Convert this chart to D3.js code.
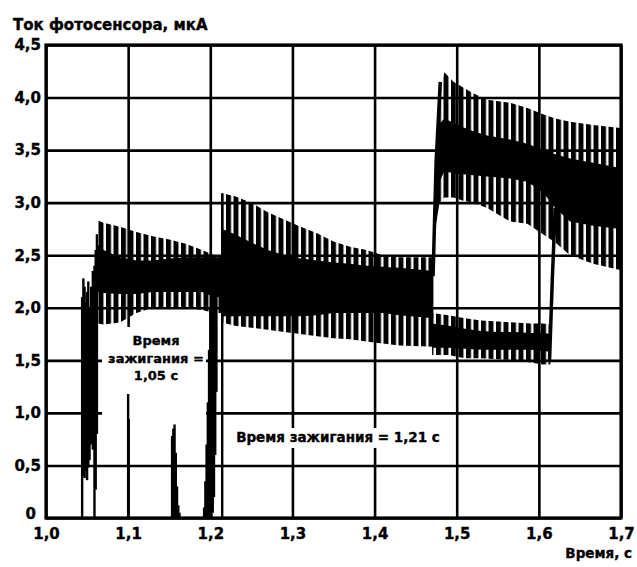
<!DOCTYPE html>
<html>
<head>
<meta charset="utf-8">
<script src="https://cdn.jsdelivr.net/npm/d3@7"></script>
<style>
  body { margin: 0; background: #fff; }
  text { font-family: "DejaVu Sans", sans-serif; font-weight: bold; fill: #000; stroke: #000; stroke-width: 0.35px; }
</style>
</head>
<body>
<script>
// ---------------- data ----------------
const xTicks = [1.0, 1.1, 1.2, 1.3, 1.4, 1.5, 1.6, 1.7]
const yTicks = [0, 0.5, 1.0, 1.5, 2.0, 2.5, 3.0, 3.5, 4.0, 4.5]

// rows: [time s, peak top, solid top, solid bottom, trough bottom] in uA
const plateauFirst = [
    [1.063, 2.83, 2.60, 2.15, 1.85],
    [1.070, 2.81, 2.55, 2.14, 1.84],
    [1.090, 2.77, 2.48, 2.13, 1.86],
    [1.110, 2.72, 2.45, 2.13, 1.95],
    [1.130, 2.68, 2.45, 2.15, 2.00],
    [1.150, 2.65, 2.47, 2.15, 2.00],
    [1.170, 2.61, 2.48, 2.15, 2.00],
    [1.190, 2.55, 2.48, 2.15, 1.98],
    [1.205, 2.50, 2.48, 2.10, 1.95],
    [1.215, 2.50, 2.48, 2.10, 1.95]
]
const plateauSecond = [
    [1.2145, 3.09, 2.75, 1.92, 1.86],
    [1.230, 3.06, 2.70, 1.92, 1.83],
    [1.250, 3.00, 2.62, 1.92, 1.81],
    [1.270, 2.91, 2.55, 1.92, 1.79],
    [1.290, 2.84, 2.50, 1.92, 1.77],
    [1.310, 2.77, 2.47, 1.92, 1.75],
    [1.330, 2.71, 2.45, 1.93, 1.73],
    [1.350, 2.63, 2.43, 1.95, 1.71],
    [1.370, 2.58, 2.42, 1.95, 1.70],
    [1.390, 2.55, 2.40, 1.95, 1.68],
    [1.410, 2.50, 2.39, 1.95, 1.66],
    [1.430, 2.48, 2.38, 1.93, 1.64],
    [1.4715, 2.48, 2.35, 1.90, 1.63]
]
const highBand = [
    [1.4715, 2.55, 2.50, 2.40, 2.35],
    [1.4750, 3.45, 3.30, 2.90, 2.80],
    [1.4790, 4.05, 3.75, 3.20, 3.00],
    [1.4850, 4.24, 3.80, 3.30, 3.05],
    [1.4960, 4.15, 3.76, 3.28, 3.05],
    [1.5070, 4.10, 3.72, 3.27, 3.02],
    [1.5200, 4.04, 3.68, 3.26, 3.00],
    [1.5370, 3.98, 3.64, 3.25, 2.95],
    [1.5650, 3.95, 3.60, 3.23, 2.82],
    [1.5860, 3.90, 3.56, 3.20, 2.80],
    [1.6050, 3.84, 3.50, 3.10, 2.70],
    [1.6200, 3.80, 3.46, 2.95, 2.62],
    [1.6380, 3.77, 3.42, 2.82, 2.50],
    [1.6660, 3.74, 3.38, 2.78, 2.42],
    [1.6990, 3.71, 3.33, 2.75, 2.36]
]
const lowBand = [
    [1.470, 1.95, 1.85, 1.62, 1.55],
    [1.490, 1.93, 1.83, 1.62, 1.55],
    [1.510, 1.90, 1.80, 1.61, 1.52],
    [1.530, 1.88, 1.78, 1.60, 1.52],
    [1.550, 1.87, 1.77, 1.60, 1.51],
    [1.570, 1.86, 1.77, 1.60, 1.50],
    [1.590, 1.85, 1.76, 1.60, 1.48],
    [1.605, 1.85, 1.76, 1.59, 1.46],
    [1.614, 1.84, 1.75, 1.58, 1.46]
]
// steep edges where a trace jumps to the high level
const riseFirst = [[1.4712, 2.30], [1.4750, 3.40], [1.4800, 4.15]]
const riseSecond = [[1.613, 1.50], [1.6165, 2.30], [1.620, 2.95]]

// ignition transients: [time, low, high]
const spikesFirst = [
    [1.0440, 0.00, 2.10], [1.0455, 0.40, 2.28], [1.0470, 0.38, 2.20],
    [1.0485, 0.45, 2.05], [1.0500, 0.36, 2.15], [1.0515, 0.48, 2.25],
    [1.0530, 0.55, 2.00], [1.0550, 0.70, 2.20], [1.0570, 0.65, 2.35],
    [1.0590, 0.00, 2.40], [1.0605, 0.27, 2.55], [1.0620, 0.80, 2.70]
]
const spikesMiddle = [
    [1.1000, 0.00, 1.18],
    [1.1535, 0.00, 0.78], [1.1550, 0.00, 0.85], [1.1565, 0.00, 0.89],
    [1.1580, 0.00, 0.62], [1.1595, 0.00, 0.30], [1.1610, 0.00, 0.12],
    [1.1625, 0.00, 0.05]
]
const spikesSecond = [
    [1.1925, 0.00, 0.10], [1.1940, 0.00, 0.35], [1.1955, 0.00, 0.70],
    [1.1970, 0.00, 1.10], [1.1985, 0.00, 1.60], [1.2000, 0.00, 2.00],
    [1.2015, 0.00, 2.10], [1.2030, 0.05, 2.10], [1.2045, 0.20, 2.00],
    [1.2060, 0.60, 2.10], [1.2075, 1.20, 2.10], [1.2145, 0.00, 3.09]
]

const noteFirst = ['Время', 'зажигания =', '1,05 с']
const noteSecond = 'Время зажигания = 1,21 с'

// ---------------- layout ----------------
const margin = { top: 45, right: 16, bottom: 49, left: 46 },
    width = 637 - margin.left - margin.right,
    height = 567 - margin.top - margin.bottom

const svg = d3.select('body').append('svg')
    .attr('width', 637)
    .attr('height', 567)

svg.append('defs').append('pattern')
    .attr('id', 'ripple')
    .attr('patternUnits', 'userSpaceOnUse')
    .attr('width', 7.5)
    .attr('height', 8)
    .append('rect')
    .attr('width', 5)
    .attr('height', 8)
    .attr('fill', '#000')

const g = svg.append('g')
    .attr('transform', 'translate(' + margin.left + ',' + margin.top + ')')

const x = d3.scaleLinear().domain([1.0, 1.7]).range([0, width])
const y = d3.scaleLinear().domain([0, 4.5]).range([height, 0])

const comma = d3.formatLocale({ decimal: ',', thousands: ' ', grouping: [3], currency: ['', ''] })
const fmt = comma.format('.1f')

// grid
g.append('g')
    .call(d3.axisLeft(y).tickValues(yTicks).tickSize(-width).tickPadding(5)
        .tickFormat(d => d === 0 ? '0' : fmt(d)))
    .call(ax => ax.select('.domain').remove())
    .call(ax => ax.selectAll('line').attr('stroke', '#000').attr('stroke-width', 2.6))
    .call(ax => ax.selectAll('text').style('font-size', '15px'))
    .call(ax => ax.selectAll('text').filter(d => d === 0).attr('dy', '0.05em').attr('x', -10))

g.append('g')
    .attr('transform', 'translate(0,' + height + ')')
    .call(d3.axisBottom(x).tickValues(xTicks).tickSize(-height).tickPadding(10).tickFormat(fmt))
    .call(ax => ax.select('.domain').remove())
    .call(ax => ax.selectAll('line').attr('stroke', '#000').attr('stroke-width', 2.6))
    .call(ax => ax.selectAll('text').style('font-size', '15px'))

g.append('rect')
    .attr('width', width)
    .attr('height', height)
    .attr('fill', 'none')
    .attr('stroke', '#000')
    .attr('stroke-width', 3.2)

// note boxes hide the grid behind the text
g.append('rect')
    .attr('x', 56).attr('y', 282).attr('width', 104).attr('height', 92)
    .attr('fill', '#fff')
g.append('rect')
    .attr('x', 182).attr('y', 383).attr('width', 222).attr('height', 20)
    .attr('fill', '#fff')

// signal
const fringe = d3.area()
    .x(d => x(d[0]))
    .y0(d => y(d[4]))
    .y1(d => y(d[1]))
const core = d3.area()
    .x(d => x(d[0]))
    .y0(d => y(d[3]))
    .y1(d => y(d[2]))

const bands = [plateauFirst, plateauSecond, highBand, lowBand]
bands.forEach(band => {
    g.append('path').datum(band).attr('d', fringe).attr('fill', 'url(#ripple)')
    g.append('path').datum(band).attr('d', core).attr('fill', '#000')
})

const edge = d3.line().x(d => x(d[0])).y(d => y(d[1]))
g.selectAll('.rise')
    .data([riseFirst, riseSecond])
    .enter().append('path')
    .attr('class', 'rise')
    .attr('d', edge)
    .attr('fill', 'none')
    .attr('stroke', '#000')
    .attr('stroke-width', 3.5)

const spikes = spikesFirst.concat(spikesMiddle, spikesSecond)
g.append('g')
    .selectAll('line')
    .data(spikes)
    .enter().append('line')
    .attr('x1', d => x(d[0]))
    .attr('x2', d => x(d[0]))
    .attr('y1', d => y(d[1]))
    .attr('y2', d => y(d[2]))
    .attr('stroke', '#000')
    .attr('stroke-width', 2.4)

// annotations
g.append('g')
    .selectAll('text')
    .data(noteFirst)
    .enter().append('text')
    .attr('x', 110)
    .attr('y', (d, i) => 300 + i * 17.5)
    .attr('text-anchor', 'middle')
    .style('font-size', '13px')
    .text(d => d)

g.append('text')
    .attr('x', 292)
    .attr('y', 397)
    .attr('text-anchor', 'middle')
    .style('font-size', '13.5px')
    .text(noteSecond)

// axis titles
svg.append('text')
    .attr('x', 13)
    .attr('y', 30)
    .style('font-size', '15px')
    .text('Ток фотосенсора, мкА')

svg.append('text')
    .attr('x', 632)
    .attr('y', 558)
    .attr('text-anchor', 'end')
    .style('font-size', '13.5px')
    .text('Время, с')
</script>
</body>
</html>
